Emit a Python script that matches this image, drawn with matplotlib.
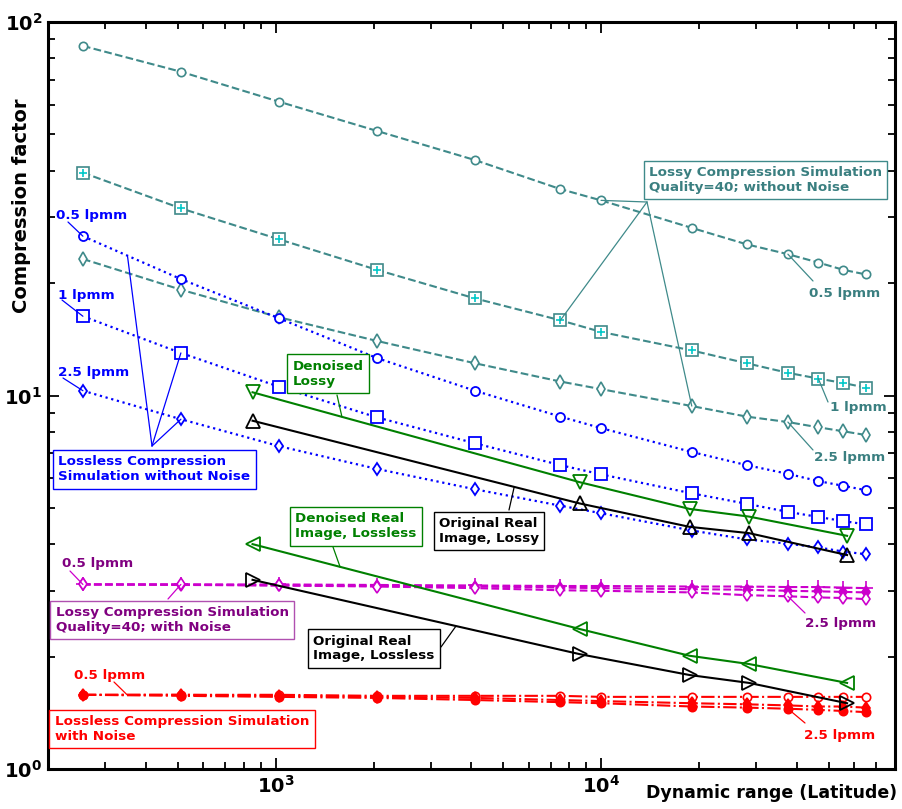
import numpy as np
import matplotlib
matplotlib.use('Agg')
import matplotlib.pyplot as plt
from matplotlib.ticker import NullFormatter

plt.rcParams['font.family'] = ['DejaVu Sans']
plt.rcParams['mathtext.fontset'] = 'dejavusans'

W, H = 902, 809

# dynamic range values (x) for the simulations and for the real images
dr_sim = [256, 512, 1024, 2048, 4096, 7500, 10000, 19000, 28000, 37500, 46500, 55500, 65000]
dr_real = [850, 8600, 18700, 28500, 57000]

# lossy compression simulation, quality=40, without noise
lossy_05 = [86.3, 73.6, 61.2, 51.1, 42.7, 35.7, 33.3, 28.1, 25.4, 23.9, 22.7, 21.7, 21.1]
lossy_1 = [39.5, 31.7, 26.2, 21.7, 18.2, 15.9, 14.8, 13.2, 12.2, 11.5, 11.1, 10.8, 10.5]
lossy_25 = [23.2, 19.2, 16.2, 14.0, 12.2, 10.9, 10.4, 9.37, 8.78, 8.49, 8.22, 8.02, 7.84]

# lossless compression simulation without noise
lossless_05 = [26.7, 20.5, 16.1, 12.6, 10.3, 8.78, 8.18, 7.06, 6.51, 6.17, 5.90, 5.73, 5.58]
lossless_1 = [16.3, 13.0, 10.56, 8.74, 7.45, 6.51, 6.15, 5.47, 5.13, 4.88, 4.73, 4.61, 4.52]
lossless_25 = [10.3, 8.64, 7.32, 6.36, 5.61, 5.07, 4.84, 4.35, 4.12, 4.01, 3.92, 3.82, 3.76]

# real images
denoised_lossy = [10.2, 5.86, 4.97, 4.74, 4.21]
original_lossy = [8.56, 5.14, 4.45, 4.28, 3.74]
denoised_lossless = [4.00, 2.37, 2.01, 1.91, 1.70]
original_lossless = [3.21, 2.03, 1.785, 1.70, 1.50]

# lossy compression simulation with noise
nlossy_05 = [3.12, 3.12, 3.12, 3.11, 3.10, 3.09, 3.09, 3.08, 3.08, 3.07, 3.07, 3.06, 3.05]
nlossy_1 = [3.12, 3.11, 3.10, 3.09, 3.08, 3.06, 3.05, 3.03, 3.02, 3.00, 2.99, 2.98, 2.97]
nlossy_25 = [3.12, 3.12, 3.10, 3.08, 3.05, 3.01, 3.00, 2.97, 2.92, 2.90, 2.88, 2.87, 2.85]

# lossless compression simulation with noise
nlossless_05 = [1.58, 1.58, 1.58, 1.57, 1.57, 1.57, 1.56, 1.56, 1.56, 1.56, 1.56, 1.56, 1.56]
nlossless_1 = [1.58, 1.58, 1.57, 1.56, 1.55, 1.53, 1.52, 1.50, 1.49, 1.48, 1.47, 1.47, 1.46]
nlossless_25 = [1.58, 1.57, 1.56, 1.55, 1.53, 1.51, 1.50, 1.47, 1.46, 1.45, 1.44, 1.43, 1.42]

teal = '#3f8a8a'
teal_txt = '#3a7f80'
blue = '#0000ff'
green = '#008000'
magenta = '#cc00cc'
purple = '#800080'
red = '#ff0000'


def fp(x, y):
    # reference pixel (from top-left) -> figure fraction
    return (x / W, 1 - y / H)


fig = plt.figure(figsize=(W / 100, H / 100), dpi=100)
ax = fig.add_axes([48 / W, 1 - 769 / H, (895 - 48) / W, (769 - 22) / H])
ax.set_xscale('log')
ax.set_yscale('log')

# lossy simulation without noise (teal, dashed)
kw = dict(color=teal, ls='--', lw=1.5, mfc='white', mew=1.2)
ax.plot(dr_sim, lossy_05, marker='o', ms=6, **kw)
ax.plot(dr_sim, lossy_1, marker='s', ms=8.5, **kw)
ax.plot(dr_sim, lossy_1, ls='none', marker='+', ms=6, mew=1.2, color='#00c8c8')
ax.plot(dr_sim, lossy_25, marker='d', ms=7, **kw)

# lossless simulation without noise (blue, dotted)
kw = dict(color=blue, ls=':', lw=1.6, mfc='white', mew=1.3)
ax.plot(dr_sim, lossless_05, marker='o', ms=6.5, **kw)
ax.plot(dr_sim, lossless_1, marker='s', ms=8, **kw)
ax.plot(dr_sim, lossless_25, marker='d', ms=6.5, **kw)

# lossy simulation with noise (magenta, dashed)
kw = dict(color=magenta, ls='--', lw=1.5, mew=1.2)
ax.plot(dr_sim, nlossy_05, marker='+', ms=10, **kw)
ax.plot(dr_sim, nlossy_1, marker='d', ms=6, mfc=magenta, **kw)
ax.plot(dr_sim, nlossy_25, marker='d', ms=6.5, mfc='white', **kw)

# lossless simulation with noise (red, dash-dot)
kw = dict(color=red, ls='-.', lw=1.5, mew=1.2)
ax.plot(dr_sim, nlossless_05, marker='o', ms=6, mfc='white', **kw)
ax.plot(dr_sim, nlossless_1, marker='d', ms=6, mfc=red, **kw)
ax.plot(dr_sim, nlossless_25, marker='o', ms=6, mfc=red, **kw)

# real images
ax.plot(dr_real, denoised_lossy, color=green, lw=1.5, marker='v', ms=10, mfc='none', mew=1.3)
ax.plot(dr_real, original_lossy, color='black', lw=1.5, marker='^', ms=10, mfc='none', mew=1.3)
ax.plot(dr_real, denoised_lossless, color=green, lw=1.5, marker='<', ms=10, mfc='none', mew=1.3)
ax.plot(dr_real, original_lossless, color='black', lw=1.5, marker='>', ms=10, mfc='none', mew=1.3)

ax.set_xlim(200, 80000)
ax.set_ylim(1, 100)

for s in ax.spines.values():
    s.set_linewidth(2.2)
ax.tick_params(which='both', direction='in', top=True, right=True, width=1.3)
ax.tick_params(which='major', length=8, pad=4)
ax.tick_params(which='minor', length=5)
ax.set_xticks([1000, 10000])
ax.set_xticklabels([r'$\mathbf{10^{3}}$', r'$\mathbf{10^{4}}$'], fontsize=14)
ax.set_yticks([1, 10, 100])
ax.set_yticklabels([r'$\mathbf{10^{0}}$', r'$\mathbf{10^{1}}$', r'$\mathbf{10^{2}}$'], fontsize=14)
ax.xaxis.set_minor_formatter(NullFormatter())
ax.yaxis.set_minor_formatter(NullFormatter())

ax.set_ylabel('Compression factor', fontsize=14, fontweight='bold')
ax.yaxis.set_label_coords(-0.02, 0.754)
fig.text(*fp(897, 793), 'Dynamic range (Latitude)', fontsize=12.5, fontweight='bold',
         ha='right', va='center')


def leader(xy, start, color):
    ax.annotate('', xy=xy, xycoords='data', xytext=fp(*start), textcoords='figure fraction',
                arrowprops=dict(arrowstyle='-', color=color, lw=0.9, shrinkA=0, shrinkB=0))


def label(pos, text, color, box=None):
    kw = dict(fontsize=9.7, fontweight='bold', color=color, ha='center', va='center',
              multialignment='left', zorder=10)
    if box is not None:
        kw['bbox'] = dict(boxstyle='square,pad=0.4', fc='white', ec=box, lw=1)
    fig.text(*fp(*pos), text, **kw)


# teal annotations
label((765.5, 180), 'Lossy Compression Simulation\nQuality=40; without Noise', teal_txt, teal)
leader((dr_sim[6], lossy_05[6]), (647, 202), teal)
leader((dr_sim[5], lossy_1[5]), (647, 202), teal)
leader((dr_sim[7], lossy_25[7]), (647, 202), teal)
label((845, 294), '0.5 lpmm', teal_txt)
leader((dr_sim[9], lossy_05[9]), (813, 281), teal)
label((858, 408), '1 lpmm', teal_txt)
leader((dr_sim[10], lossy_1[10]), (828, 402), teal)
label((850, 457), '2.5 lpmm', teal_txt)
leader((dr_sim[9], lossy_25[9]), (813, 450), teal)

# blue annotations
label((92, 216), '0.5 lpmm', blue)
leader((dr_sim[0], lossless_05[0]), (68, 222), blue)
label((86, 296), '1 lpmm', blue)
leader((dr_sim[0], lossless_1[0]), (62, 300), blue)
label((94, 373), '2.5 lpmm', blue)
leader((dr_sim[0], lossless_25[0]), (63, 378), blue)
label((154.5, 469.5), 'Lossless Compression\nSimulation without Noise', blue, blue)
leader((351, 23.6), (152, 446), blue)
leader((dr_sim[1], lossless_1[1]), (152, 446), blue)
leader((dr_sim[1], lossless_25[1]), (152, 446), blue)

# real image annotations
label((328, 373.5), 'Denoised\nLossy', green, green)
leader((1600, 8.76), (337, 395), green)
label((356, 526.5), 'Denoised Real\nImage, Lossless', green, green)
leader((1580, 3.47), (333, 547), green)
label((489, 531), 'Original Real\nImage, Lossy', 'black', 'black')
leader((5410, 5.69), (509, 510), 'black')
label((374, 648.5), 'Original Real\nImage, Lossless', 'black', 'black')
leader((3580, 2.41), (441, 647), 'black')

# purple annotations
label((98, 564), '0.5 lpmm', purple)
leader((dr_sim[0], nlossy_05[0]), (70, 571), magenta)
label((172, 620), 'Lossy Compression Simulation\nQuality=40; with Noise', purple, '#b050b0')
leader((dr_sim[1], nlossy_05[1]), (168, 599), magenta)
label((841, 623), '2.5 lpmm', purple)
leader((dr_sim[9], nlossy_25[9]), (805, 613), magenta)

# red annotations
label((110, 676), '0.5 lpmm', red)
leader((350, 1.58), (114, 682), red)
label((182, 729), 'Lossless Compression Simulation\nwith Noise', red, red)
label((840, 736), '2.5 lpmm', red)
leader((dr_sim[9], nlossless_25[9]), (805, 723), red)

fig.savefig('out.png', dpi=100)
